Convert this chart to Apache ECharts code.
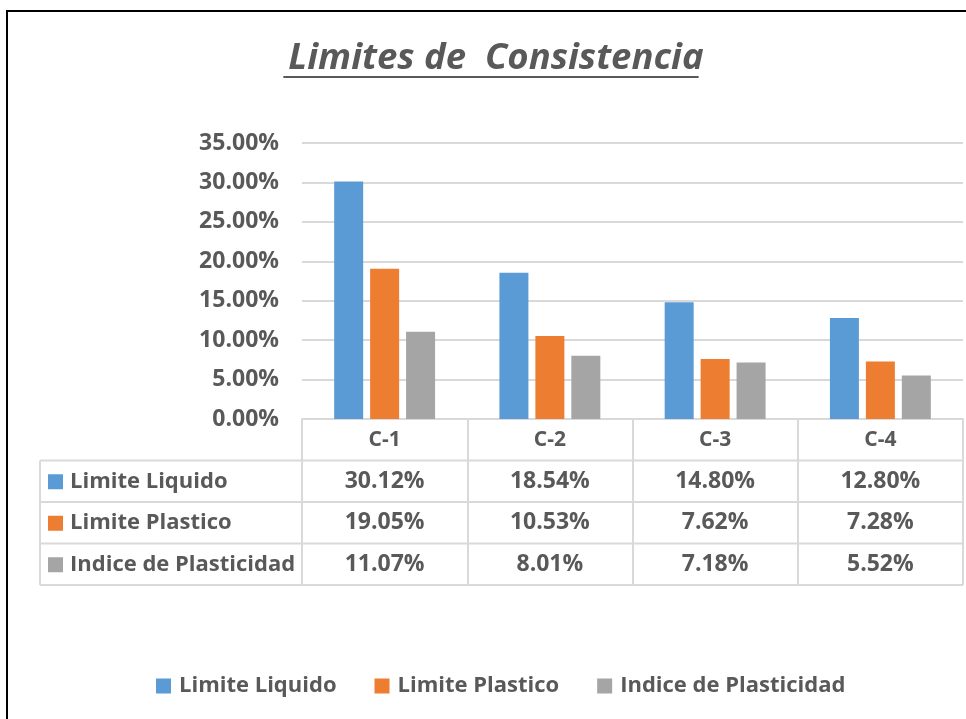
<!DOCTYPE html>
<html>
<head>
<meta charset="utf-8">
<script src="https://cdn.jsdelivr.net/npm/echarts@6/dist/echarts.min.js"></script>
<style>
  html, body { margin: 0; padding: 0; background: #fff; }
  #chart { width: 966px; height: 719px; }
</style>
</head>
<body>
<div id="chart"></div>
<script>
// datos del grafico
var categorias = ['C-1', 'C-2', 'C-3', 'C-4'];
var nombres = ['Limite Liquido', 'Limite Plastico', 'Indice de Plasticidad'];
var limiteLiquido = [30.12, 18.54, 14.80, 12.80];
var limitePlastico = [19.05, 10.53, 7.62, 7.28];
var indicePlasticidad = [11.07, 8.01, 7.18, 5.52];
var yTicks = { min: 0, max: 35, step: 5 };

var colores = ['#5B9BD5', '#ED7D31', '#A5A5A5'];
var texto = '#595959';
var linea = '#D9D9D9';
var fuente = 'Open Sans';
var tam = 22;      // rotulos de texto
var tamNum = 23;   // numeros
var tamCat = 21;
var titulo = 'Limites de  Consistencia';
var tamTitulo = 36.5;

var valores = [limiteLiquido, limitePlastico, indicePlasticidad];

// geometria de la tabla
var gLeft = 302, gRight = 963, gTop = 143, axisY = 419;
var rowH = 41.5;
var tablaLeft = 40;

function pct(v) { return v.toFixed(2) + '%'; }

// ancho del titulo para el subrayado
var ctx = document.createElement('canvas').getContext('2d');
ctx.font = 'italic bold ' + tamTitulo + 'px "' + fuente + '"';
var anchoTitulo = ctx.measureText(titulo).width;

var myChart = echarts.init(document.getElementById('chart'));

var xAxes = [{
  type: 'category',
  data: categorias,
  axisLine: { lineStyle: { color: linea, width: 2 } },
  axisTick: { show: true, inside: false, length: rowH * 4, lineStyle: { color: linea, width: 2 } },
  axisLabel: {
    interval: 0, margin: rowH / 2, verticalAlign: 'middle',
    color: texto, fontFamily: fuente, fontWeight: 'bold', fontSize: tamCat
  }
}];
valores.forEach(function (serie, i) {
  xAxes.push({
    type: 'category',
    data: serie.map(pct),
    position: 'bottom',
    axisLine: { show: false },
    axisTick: { show: false },
    axisLabel: {
      interval: 0, margin: rowH * (i + 1.5), verticalAlign: 'middle',
      color: texto, fontFamily: fuente, fontWeight: 'bold', fontSize: tamNum
    }
  });
});

// lineas y rotulos de la tabla
var graficos = [
  { type: 'rect', shape: { x: 7, y: 11, width: 1000, height: 1000 }, style: { fill: 'none', stroke: '#000', lineWidth: 2 } },
  { type: 'line', shape: { x1: tablaLeft, y1: axisY + rowH, x2: tablaLeft, y2: axisY + rowH * 4 }, style: { stroke: linea, lineWidth: 2 } }
];
for (var r = 1; r <= 4; r++) {
  graficos.push({ type: 'line', shape: { x1: tablaLeft, y1: axisY + rowH * r, x2: gRight, y2: axisY + rowH * r }, style: { stroke: linea, lineWidth: 2 } });
}
nombres.forEach(function (n, i) {
  var cy = axisY + rowH * (i + 1.5);
  graficos.push({ type: 'rect', shape: { x: 48, y: cy - 7, width: 15, height: 15 }, style: { fill: colores[i] } });
  graficos.push({ type: 'text', x: 70, y: cy, style: { text: n, fill: texto, font: 'bold ' + tam + 'px "' + fuente + '"', verticalAlign: 'middle', align: 'left' } });
});
// subrayado del titulo
var tituloX = 491;
graficos.push({ type: 'line', shape: { x1: tituloX - anchoTitulo / 2, y1: 77, x2: tituloX + anchoTitulo / 2, y2: 77 }, style: { stroke: texto, lineWidth: 2 } });

var option = {
  animation: false,
  backgroundColor: '#fff',
  title: {
    text: titulo,
    left: tituloX, top: 35,
    textAlign: 'center',
    textStyle: { color: texto, fontFamily: fuente, fontWeight: 'bold', fontStyle: 'italic', fontSize: tamTitulo }
  },
  legend: {
    bottom: 17, left: 151,
    itemWidth: 15, itemHeight: 15, itemGap: 38,
    icon: 'rect',
    textStyle: { color: texto, fontFamily: fuente, fontWeight: 'bold', fontSize: tam, padding: [0, 0, 0, 3] },
    data: nombres
  },
  grid: { left: gLeft, right: 966 - gRight, top: gTop, bottom: 719 - axisY, containLabel: false },
  xAxis: xAxes,
  yAxis: {
    type: 'value', min: yTicks.min, max: yTicks.max, interval: yTicks.step,
    axisLine: { show: false }, axisTick: { show: false },
    splitLine: { lineStyle: { color: linea, width: 2 } },
    axisLabel: {
      margin: 23, color: texto, fontFamily: fuente, fontWeight: 'bold', fontSize: tamNum,
      formatter: function (v) { return pct(v); }
    }
  },
  graphic: graficos,
  series: nombres.map(function (n, i) {
    return {
      name: n, type: 'bar', data: valores[i],
      barWidth: 29, barGap: '24%',
      itemStyle: { color: colores[i] }
    };
  })
};

myChart.setOption(option);
</script>
</body>
</html>
